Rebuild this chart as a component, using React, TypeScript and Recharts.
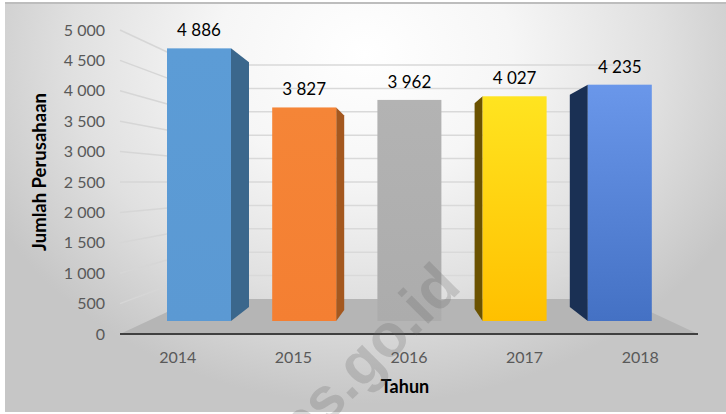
import React from 'react';
import { Bar, CartesianGrid, ComposedChart, LabelList, Line, XAxis, YAxis } from 'recharts';

const years = ['2014', '2015', '2016', '2017', '2018'];
const companies = [4886, 3827, 3962, 4027, 4235];
const yTicks = [0, 500, 1000, 1500, 2000, 2500, 3000, 3500, 4000, 4500, 5000];

// look of each bar: front fill, side fill, side depth (negative = left side)
const frontFills = ['url(#f0)', 'url(#f1)', 'url(#f2)', 'url(#f3)', 'url(#f4)'];
const gradients = [
  ['#5c9cd6', '#5b99d3'],
  ['#f58537', '#f47f32'],
  ['#b3b3b3', '#acacac'],
  ['#ffe420', '#ffc000'],
  ['#6a97ea', '#4471c4'],
];
const sideFills = ['#3b678c', '#a4581f', 'none', '#6b5200', '#1a3054'];
const sideDepths = [18, 8, 0, -8, -18];
const sideTopDrop = [14, 8, 0, 7, 10];
const sideBottomRise = [14, 11, 0, 12, 14];

const data = years.map((year, i) => ({ year, companies: companies[i] }));

const fontFamily = 'Lato, "Open Sans", sans-serif';
const spaced = (v: number) => {
  const s = String(v);
  return s.length > 3 ? `${s.slice(0, -3)} ${s.slice(-3)}` : s;
};

const Bar3D = (props: any) => {
  const { x, y, width, height, index } = props;
  const depth = sideDepths[index];
  const edge = depth > 0 ? x + width : x;
  const bottom = y + height;
  return (
    <g>
      {depth !== 0 && (
        <polygon
          fill={sideFills[index]}
          points={`${edge},${y} ${edge + depth},${y + sideTopDrop[index]} ${edge + depth},${bottom - sideBottomRise[index]} ${edge},${bottom}`}
        />
      )}
      <rect x={x} y={y} width={width} height={height} fill={frontFills[index]} />
    </g>
  );
};

// back wall gridline, its left wall continuation, and the floor under the zero line
const WallLine = (props: any) => {
  const { y1: y, index } = props;
  // the grid also hands over the plot's own top and bottom edges, skip those
  if (y < 60 || y > 300) return <g key={index} />;
  if (Math.abs(y - 299) < 1) {
    return <polygon key={index} points="120,334 698,334 623,299 195,299" fill="#b5b5b5" />;
  }
  const frontY = 334 - ((299 - y) * 304) / 234;
  return (
    <g key={index}>
      <line x1={120} y1={frontY} x2={195} y2={y} stroke="#d6d6d6" strokeWidth={1.5} />
      <line x1={195} y1={y} x2={623} y2={y} stroke="#d9d9d9" strokeWidth={1.5} />
    </g>
  );
};

const App = () => (
  <div
    style={{
      position: 'absolute',
      left: 0,
      top: 0,
      width: 726,
      height: 414,
      overflow: 'hidden',
      background: '#fff',
    }}
  >
    <div
      style={{
        position: 'absolute',
        left: 5,
        top: 2,
        width: 721,
        height: 410,
        boxSizing: 'border-box',
        borderTop: '2px solid #bdbdbd',
        background:
          'radial-gradient(ellipse 420px 350px at 360px 50px, #ffffff 0%, #f6f6f6 35%, #e0e0e0 70%, #c6c6c6 100%)',
      }}
    />
    <div style={{ position: 'absolute', left: 0, top: 0 }}>
      <ComposedChart
        width={726}
        height={414}
        data={data}
        margin={{ top: 30, right: 28, bottom: 0, left: 0 }}
        style={{ fontFamily }}
      >
        <defs>
          {gradients.map(([from, to], i) => (
            <linearGradient key={i} id={`f${i}`} x1="0" y1="0" x2="0" y2="1">
              <stop offset="0%" stopColor={from} />
              <stop offset="100%" stopColor={to} />
            </linearGradient>
          ))}
        </defs>
        <CartesianGrid vertical={false} yAxisId="wall" horizontal={WallLine} />
        <XAxis
          dataKey="year"
          height={80}
          axisLine={{ stroke: '#404040', strokeWidth: 2 }}
          tickLine={false}
          tickMargin={12}
          tick={{ fill: '#595959', fontSize: 16 }}
          label={() => (
            <text x={405} y={388} textAnchor="middle" dominantBaseline="middle" fontWeight={700} fontSize={18} fill="#000">
              Tahun
            </text>
          )}
        />
        <XAxis xAxisId="bars" dataKey="year" hide padding={{ left: 26, right: 26 }} />
        <YAxis
          width={120}
          domain={[0, 5000]}
          ticks={yTicks}
          axisLine={false}
          tickLine={false}
          tickSize={0}
          tickMargin={15}
          tickFormatter={spaced}
          tick={{ fill: '#595959', fontSize: 16 }}
          label={() => (
            <text
              x={41}
              y={172}
              textAnchor="middle"
              dominantBaseline="middle"
              transform="rotate(-90 41 172)"
              fontWeight={700}
              fontSize={18.5}
              fill="#000"
            >
              Jumlah Perusahaan
            </text>
          )}
        />
        <YAxis yAxisId="bars" hide domain={[-233, 5215]} ticks={yTicks} />
        <YAxis yAxisId="wall" hide domain={[-748, 5748]} ticks={yTicks} />
        {/* invisible series keep the tick axis and wall axis live */}
        <Line dataKey="companies" stroke="none" dot={false} legendType="none" isAnimationActive={false} />
        <Line dataKey="companies" yAxisId="wall" stroke="none" dot={false} legendType="none" isAnimationActive={false} />
        <Bar
          dataKey="companies"
          xAxisId="bars"
          yAxisId="bars"
          barSize={64}
          shape={Bar3D}
          isAnimationActive={false}
        >
          <LabelList
            dataKey="companies"
            position="top"
            offset={12}
            formatter={spaced}
            fill="#000"
            fontSize={17}
          />
        </Bar>
      </ComposedChart>
    </div>
    <div
      style={{
        position: 'absolute',
        left: 470,
        top: 236,
        transform: 'translateX(-100%) rotate(-45deg)',
        transformOrigin: '100% 100%',
        fontFamily: '"Liberation Sans", sans-serif',
        fontWeight: 700,
        fontSize: 60,
        lineHeight: '60px',
        color: 'rgba(90,90,90,0.22)',
        whiteSpace: 'nowrap',
      }}
    >
      bps.go.id
    </div>
  </div>
);

export default App;
